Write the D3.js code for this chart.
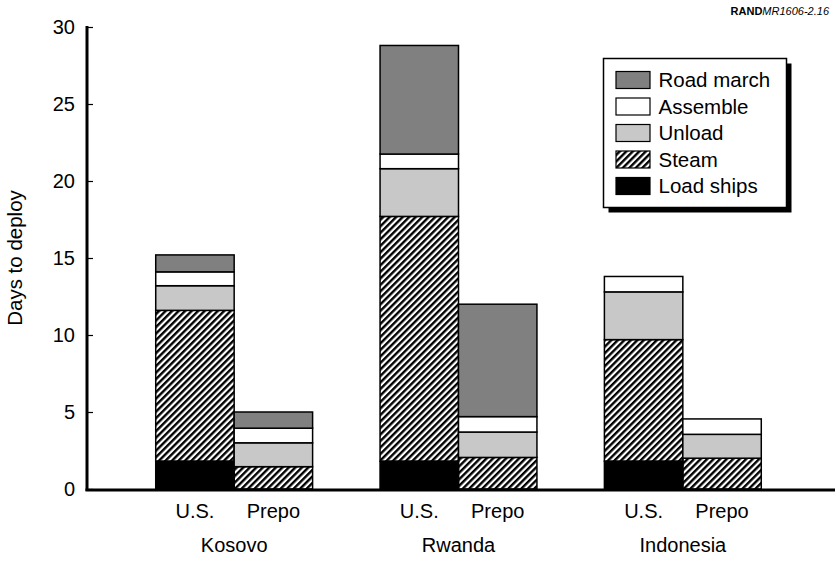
<!DOCTYPE html>
<html>
<head>
<meta charset="utf-8">
<script src="https://cdn.jsdelivr.net/npm/d3@7"></script>
<style>
  body { margin: 0; background: #fff; }
  text { font-family: "Liberation Sans", Arial, sans-serif; fill: #000; }
</style>
</head>
<body>
<div id="chart"></div>
<script>
// regions and deployment options
var regions = ["Kosovo", "Rwanda", "Indonesia"];
var options = ["U.S.", "Prepo"];

// days per stage, order: Kosovo U.S., Kosovo Prepo, Rwanda U.S., Rwanda Prepo, Indonesia U.S., Indonesia Prepo
var loadShips = [1.8, 0, 1.8, 0, 1.8, 0];
var steam     = [9.8, 1.45, 15.9, 2.05, 7.9, 2.0];
var unload    = [1.6, 1.55, 3.1, 1.65, 3.1, 1.55];
var assemble  = [0.9, 0.95, 0.95, 1.0, 1.0, 1.0];
var roadMarch = [1.1, 1.05, 7.05, 7.3, 0, 0];

var stages = ["Load ships", "Steam", "Unload", "Assemble", "Road march"];
var yTicks = [0, 5, 10, 15, 20, 25, 30];

var w = 835, h = 562;

var svg = d3.select("#chart").append("svg")
    .attr("width", w)
    .attr("height", h);

// hatch for the steam stage
var defs = svg.append("defs");
defs.append("pattern")
    .attr("id", "hatch")
    .attr("patternUnits", "userSpaceOnUse")
    .attr("width", 4.6)
    .attr("height", 4.6)
    .attr("patternTransform", "rotate(45)")
  .append("rect")
    .attr("width", 2.4)
    .attr("height", 4.6)
    .attr("fill", "#000");

var fills = {
    "Load ships": "#000",
    "Steam": "url(#hatch)",
    "Unload": "#c8c8c8",
    "Assemble": "#fff",
    "Road march": "#808080"
};

// build rows for the stack
var series = [loadShips, steam, unload, assemble, roadMarch];
var rows = [];
regions.forEach(function(r, gi) {
    options.forEach(function(o, oi) {
        var row = { region: r, option: o };
        stages.forEach(function(s, si) {
            row[s] = series[si][gi * options.length + oi];
        });
        rows.push(row);
    });
});

var stacked = d3.stack().keys(stages)(rows);

var yScale = d3.scaleLinear()
    .domain([0, 30])
    .range([489, 27]);

var x0 = d3.scaleBand()
    .domain(regions)
    .range([122, 795]);

var x1 = d3.scaleBand()
    .domain(options)
    .range([0, x0.bandwidth()])
    .paddingOuter(0.43);

// bars
var layers = svg.selectAll("g.layer")
    .data(stacked)
    .enter()
    .append("g")
    .attr("class", "layer")
    .attr("fill", function(d) { return fills[d.key]; });

layers.selectAll("rect")
    .data(function(d) { return d.filter(function(p) { return p[1] - p[0] > 0; }); })
    .enter()
    .append("rect")
    .attr("x", function(d) { return x0(d.data.region) + x1(d.data.option); })
    .attr("y", function(d) { return yScale(d[1]); })
    .attr("width", x1.bandwidth())
    .attr("height", function(d) { return yScale(d[0]) - yScale(d[1]); })
    .attr("stroke", "#000")
    .attr("stroke-width", 1.5);

// y axis with inward ticks
var yAxis = svg.append("g")
    .attr("transform", "translate(87,0)")
    .call(d3.axisRight(yScale).tickValues(yTicks).tickSize(6).tickFormat(""));
yAxis.select(".domain").remove();
yAxis.selectAll(".tick line").attr("stroke", "#000").attr("stroke-width", 1.2);

svg.selectAll("text.ytick")
    .data(yTicks)
    .enter()
    .append("text")
    .attr("class", "ytick")
    .attr("x", 75)
    .attr("y", function(d) { return yScale(d); })
    .attr("dy", "0.36em")
    .attr("text-anchor", "end")
    .style("font-size", "20px")
    .text(function(d) { return d; });

// axis lines
svg.append("line")
    .attr("x1", 87).attr("x2", 87)
    .attr("y1", 26).attr("y2", 491)
    .attr("stroke", "#000").attr("stroke-width", 3);
svg.append("line")
    .attr("x1", 85.5).attr("x2", 835)
    .attr("y1", 490).attr("y2", 490)
    .attr("stroke", "#000").attr("stroke-width", 3);

// y title
svg.append("text")
    .attr("transform", "translate(22,258) rotate(-90)")
    .attr("text-anchor", "middle")
    .style("font-size", "20.5px")
    .text("Days to deploy");

// option labels
svg.selectAll("text.opt")
    .data(rows)
    .enter()
    .append("text")
    .attr("class", "opt")
    .attr("x", function(d) { return x0(d.region) + x1(d.option) + x1.bandwidth() / 2; })
    .attr("y", 518)
    .attr("text-anchor", "middle")
    .style("font-size", "20px")
    .text(function(d) { return d.option; });

// region labels
svg.selectAll("text.region")
    .data(regions)
    .enter()
    .append("text")
    .attr("class", "region")
    .attr("x", function(d) { return x0(d) + x0.bandwidth() / 2; })
    .attr("y", 552)
    .attr("text-anchor", "middle")
    .style("font-size", "20px")
    .text(function(d) { return d; });

// figure number
var tag = svg.append("text")
    .attr("x", 829)
    .attr("y", 15)
    .attr("text-anchor", "end")
    .style("font-size", "11px");
tag.append("tspan").style("font-weight", "bold").text("RAND");
tag.append("tspan").style("font-style", "italic").text("MR1606-2.16");

// legend, top entry is the top of the stack
var legend = svg.append("g").attr("transform", "translate(603.5,58.5)");
legend.append("rect")
    .attr("x", 5).attr("y", 5)
    .attr("width", 183).attr("height", 149)
    .attr("fill", "#000");
legend.append("rect")
    .attr("width", 183).attr("height", 149)
    .attr("fill", "#fff")
    .attr("stroke", "#000")
    .attr("stroke-width", 1.5);

var legendItems = stages.slice().reverse();
var items = legend.selectAll("g.item")
    .data(legendItems)
    .enter()
    .append("g")
    .attr("class", "item")
    .attr("transform", function(d, i) { return "translate(0," + (21.5 + i * 26.5) + ")"; });

items.append("rect")
    .attr("x", 12.5)
    .attr("y", -8.5)
    .attr("width", 34)
    .attr("height", 17)
    .attr("fill", function(d) { return fills[d]; })
    .attr("stroke", "#000")
    .attr("stroke-width", 1.2);

items.append("text")
    .attr("x", 55)
    .attr("dy", "0.36em")
    .style("font-size", "20.5px")
    .text(function(d) { return d; });
</script>
</body>
</html>
